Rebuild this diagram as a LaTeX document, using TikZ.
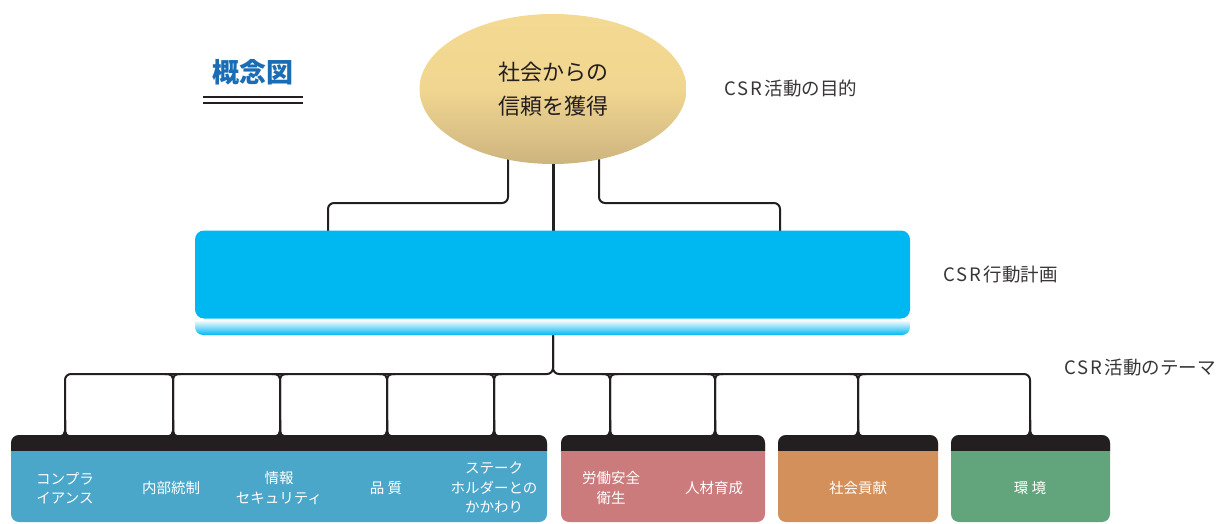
\documentclass[tikz,border=0pt]{standalone}
\usepackage{fontspec}
\setmainfont{Noto Sans CJK JP}
\newfontfamily\csrfont[LetterSpace=10]{Noto Sans CJK JP}
\usetikzlibrary{shapes.geometric}
\definecolor{ink}{HTML}{231F20}
\definecolor{titleblue}{HTML}{1A6DB5}
\definecolor{goldA}{HTML}{F4D992}
\definecolor{goldB}{HTML}{CDB47F}
\definecolor{planblue}{HTML}{00B8F1}
\definecolor{teal}{HTML}{4BA7C9}
\definecolor{rose}{HTML}{CC7B7C}
\definecolor{ochre}{HTML}{D3905A}
\definecolor{sage}{HTML}{62A57C}
\tikzset{
  conn/.style={draw=ink, line width=2pt},
  sidelabel/.style={text=ink!90, font=\fontsize{18.5}{22}\selectfont, inner sep=0pt},
  itemtext/.style={text=white, font=\fontsize{14.5}{19.5}\selectfont, align=center, inner sep=0pt},
}
\newcommand{\csr}{{\csrfont CSR}\kern3pt}
\newcommand{\themebox}[4]{% name, x1, x2, colour
  \fill[#4, rounded corners=8pt] (#2,435) rectangle (#3,522);
  \begin{scope}
    \clip (#2,434) rectangle (#3,450);
    \fill[ink, rounded corners=8pt] (#2,435) rectangle (#3,522);
  \end{scope}
  \coordinate (#1) at ({(#2+#3)/2},435);
}
\begin{document}
\begin{tikzpicture}[x=1pt,y=-1pt]
\useasboundingbox (0,0) rectangle (1220,524);

% title
\node[text=titleblue, font=\fontsize{27}{30}\selectfont\bfseries, inner sep=0pt] (title) at (253,72) {概念図};
\draw[ink, line width=2pt] (203,97) -- (303,97);
\draw[ink, line width=2pt] (203,103) -- (303,103);

% coordinates for connectors
\coordinate (gl) at (508,150);
\coordinate (gr) at (599,150);
\coordinate (gc) at (553,150);
\coordinate (pl) at (328,232);
\coordinate (pr) at (780,232);
\coordinate (pc) at (553,232);
\coordinate (pb) at (553,334);
\coordinate (hy) at (553,374);

% upper connectors
\draw[conn, rounded corners=6pt] (gl) -- (gl |- 0,203) -- (pl |- 0,203) -- (pl);
\draw[conn, rounded corners=6pt] (gr) -- (gr |- 0,203) -- (pr |- 0,203) -- (pr);
\draw[conn, line width=3pt] (gc) -- (pc);

% lower tree
\foreach \xx in {65,173,280,387,494,610,715,858,1030}{
  \coordinate (br\xx) at (\xx,436);
}
\draw[conn, rounded corners=6pt] (pb) -- (hy) -- (65,374) -- (br65);
\draw[conn, rounded corners=6pt] (pb) -- (hy) -- (1030,374) -- (br1030);
\foreach \xx in {173,280,387,494,610,715,858}{
  \draw[conn, rounded corners=5pt] (\xx-8,374) -- (\xx,374) -- (br\xx);
  \draw[conn, rounded corners=5pt] (\xx+8,374) -- (\xx,374) -- (br\xx);
}
\foreach \xx in {65,173,280,387,494,610,715,858,1030}{
  \draw[conn, rounded corners=5pt] (\xx-8,437) -- (br\xx) -- (\xx,420);
  \draw[conn, rounded corners=5pt] (\xx+8,437) -- (br\xx) -- (\xx,420);
}

% goal ellipse
\node[ellipse, minimum width=267pt, minimum height=150pt, inner sep=0pt,
      top color=goldA, bottom color=goldB, middle color=goldA!92!goldB,
      text=ink, font=\fontsize{22}{34}\selectfont, align=center] (goal) at (553,89)
      {社会からの\\信頼を獲得};

% plan bar
\node[fill=planblue, rounded corners=9pt, minimum width=715pt, minimum height=88pt, inner sep=0pt] (plan) at (552.5,274.5) {};
\begin{scope}
  \clip[rounded corners=8pt] (195,300) rectangle (910,335);
  \shade[top color=white, bottom color=planblue] (195,320) rectangle (910,335);
\end{scope}

% side labels
\node[sidelabel, anchor=west] (lab1) at (724,88) {\csr 活動の目的};
\node[sidelabel, anchor=west] (lab2) at (943,275) {\csr 行動計画};
\node[sidelabel, anchor=west] (lab3) at (1064,368) {\csr 活動のテーマ};

% theme boxes
\themebox{boxA}{11}{547}{teal}
\themebox{boxB}{561}{765}{rose}
\themebox{boxC}{778}{938}{ochre}
\themebox{boxD}{951}{1110}{sage}

\node[itemtext] (i1) at (65,488) {コンプラ\\イアンス};
\node[itemtext] (i2) at (171,488) {内部統制};
\node[itemtext] (i3) at (279,488) {情報\\セキュリティ};
\node[itemtext] (i4) at (386,488) {品 質};
\node[itemtext] (i5) at (494,488) {ステーク\\ホルダーとの\\かかわり};
\node[itemtext] (i6) at (611,488) {労働安全\\衛生};
\node[itemtext] (i7) at (714,488) {人材育成};
\node[itemtext] (i8) at (858,488) {社会貢献};
\node[itemtext] (i9) at (1030,488) {環 境};
\end{tikzpicture}
\end{document}
